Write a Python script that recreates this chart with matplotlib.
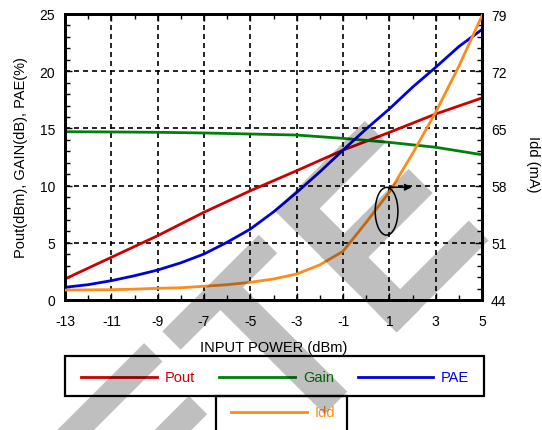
import numpy as np
import matplotlib
matplotlib.use('Agg')
import matplotlib.pyplot as plt
from matplotlib.path import Path
from matplotlib.patches import PathPatch, Ellipse, Rectangle
from matplotlib.lines import Line2D
from matplotlib.ticker import FixedLocator, MultipleLocator

plt.rcParams['font.family'] = ['Liberation Sans', 'DejaVu Sans']
plt.rcParams['axes.unicode_minus'] = False

# ---------------- data ----------------
pin_odd = [-13, -11, -9, -7, -5, -3, -1, 1, 3, 5]
pout = [1.84, 3.73, 5.62, 7.67, 9.55, 11.3, 13.1, 14.65, 16.26, 17.66]
gain = [14.71, 14.69, 14.66, 14.6, 14.51, 14.42, 14.13, 13.78, 13.35, 12.7]

pin_full = [-13, -12, -11, -10, -9, -8, -7, -6, -5, -4, -3, -2, -1, 0, 1, 2, 3, 4, 5]
pae = [1.11, 1.34, 1.69, 2.12, 2.62, 3.25, 4.02, 5.05, 6.2, 7.7, 9.4, 11.2, 13.1,
       14.95, 16.7, 18.6, 20.34, 22.15, 23.65]
idd = [45.22, 45.24, 45.26, 45.33, 45.43, 45.5, 45.68, 45.87, 46.17, 46.57, 47.18,
       48.3, 49.96, 53.5, 57.2, 61.9, 66.97, 72.6, 78.8]

x_ticks = [-13, -11, -9, -7, -5, -3, -1, 1, 3, 5]
left_ticks = [0, 5, 10, 15, 20, 25]
right_ticks = [44, 51, 58, 65, 72, 79]

colors = {'Pout': '#cc0000', 'Gain': '#00800a', 'PAE': '#0000dd', 'Idd': '#ff8c1a'}

# ---------------- figure ----------------
W, H = 542, 431
fig = plt.figure(figsize=(W / 100, H / 100), dpi=100)

def fx(x):
    return x / W

def fy(y):
    return 1 - y / H

ax_l, ax_r, ax_t, ax_b = 65, 482, 15, 301
ax = fig.add_axes([fx(ax_l), fy(ax_b), (ax_r - ax_l) / W, (ax_b - ax_t) / H])
ax2 = ax.twinx()

lw = 2.0
ax.plot(pin_odd, pout, color=colors['Pout'], lw=lw, zorder=3)
ax.plot(pin_odd, gain, color=colors['Gain'], lw=lw, zorder=3)
ax.plot(pin_full, pae, color=colors['PAE'], lw=lw, zorder=4)
ax2.plot(pin_full, idd, color=colors['Idd'], lw=lw, zorder=3)

ax.set_xlim(-13, 5)
ax.set_ylim(0, 25)
ax2.set_ylim(44, 79)

ax.xaxis.set_major_locator(FixedLocator(x_ticks))
ax.xaxis.set_minor_locator(MultipleLocator(1))
ax.yaxis.set_major_locator(FixedLocator(left_ticks))
ax.yaxis.set_minor_locator(MultipleLocator(1))
ax2.yaxis.set_major_locator(FixedLocator(right_ticks))
ax2.yaxis.set_minor_locator(FixedLocator(list(np.arange(44, 79.01, 1.4))))

ax.grid(True, which='major', color='black', linestyle=(0, (3.0, 2.4)), linewidth=1.2)

ax.tick_params(axis='x', which='both', direction='in', top=True, bottom=True,
               labelsize=10, pad=10, width=1, colors='black')
ax.tick_params(axis='x', which='major', length=5)
ax.tick_params(axis='x', which='minor', length=3.5)
ax.tick_params(axis='y', which='both', direction='in', left=True, right=False,
               labelsize=10, pad=7, width=1)
ax.tick_params(axis='y', which='major', length=5)
ax.tick_params(axis='y', which='minor', length=3.5)
ax2.tick_params(axis='y', which='both', direction='in', right=True, labelsize=10,
                pad=6.5, width=1)
ax2.tick_params(axis='y', which='major', length=5)
ax2.tick_params(axis='y', which='minor', length=3.5)

for a in (ax, ax2):
    for s in a.spines.values():
        s.set_linewidth(2.0)
        s.set_color('black')

# annotation: ellipse + arrow pointing to the right axis
ell_center = (0.88, 54.86)
ell_w, ell_h = 0.98, 5.84
ax2.add_patch(Ellipse(ell_center, ell_w, ell_h, fill=False, ec='black', lw=1.1, zorder=6))
ax2.annotate('', xy=(1.97, 57.8), xytext=(0.95, 57.8),
             arrowprops=dict(arrowstyle='-|>', color='black', lw=1.1,
                             mutation_scale=10, shrinkA=0, shrinkB=0), zorder=6)

# axis labels
fig.text(fx(273.5), fy(348), 'INPUT POWER (dBm)', ha='center', va='center', fontsize=10.5)
fig.text(fx(21.5), fy(158), 'Pout(dBm), GAIN(dB), PAE(%)', ha='center', va='center',
         rotation=90, fontsize=10.5)
fig.text(fx(533), fy(164), 'Idd (mA)', ha='center', va='center', rotation=270,
         fontsize=10.5)

# ---------------- legend (two boxed rows) ----------------
def add_rect(x0, y0, x1, y1):
    fig.add_artist(Rectangle((fx(x0), fy(y1)), (x1 - x0) / W, (y1 - y0) / H,
                             transform=fig.transFigure, fill=False, ec='black',
                             lw=1.6, zorder=5, clip_on=False))

add_rect(65, 357, 484, 397)
add_rect(216, 397, 347, 445)

legend_items = [
    ('Pout', 81, 157, 378),
    ('Gain', 219, 295, 378),
    ('PAE', 358, 433, 378),
    ('Idd', 231, 307, 413),
]
for name, x0, x1, yy in legend_items:
    fig.add_artist(Line2D([fx(x0), fx(x1)], [fy(yy), fy(yy)], transform=fig.transFigure,
                          color=colors[name], lw=2.0, zorder=5))
    fig.text(fx(x1 + 8), fy(yy), name, ha='left', va='center', fontsize=10.5,
             color=colors[name], zorder=5)

# ---------------- watermark (semi-transparent grey strokes) ----------------
def oriented(poly):
    p = np.asarray(poly, float)
    area = 0.5 * np.sum(p[:, 0] * np.roll(p[:, 1], -1) - np.roll(p[:, 0], -1) * p[:, 1])
    return p if area > 0 else p[::-1]

def band(p0, p1, w):
    p0 = np.asarray(p0, float); p1 = np.asarray(p1, float)
    d = (p1 - p0) / np.linalg.norm(p1 - p0)
    n = np.array([-d[1], d[0]]) * w / 2
    return oriented([p0 + n, p1 + n, p1 - n, p0 - n])

def rot_rect(origin, u0, u1, v0, v1):
    o = np.asarray(origin, float)
    u = np.array([1, 1]) / np.sqrt(2)
    v = np.array([1, -1]) / np.sqrt(2)
    return oriented([o + u * u0 + v * v0, o + u * u1 + v * v0,
                     o + u * u1 + v * v1, o + u * u0 + v * v1])

wm_polys = []
E_origin = (275, 211.7)
for r in [(0, 172, 0, 33), (0, 30, 0, 127), (65, 99, 0, 124), (144, 172, 0, 130)]:
    wm_polys.append(rot_rect(E_origin, *r))
wm_polys.append(band((171.5, 341.5), (268, 245), 26))
wm_polys.append(band((222.5, 290.5), (336, 404), 32))
wm_polys.append(band((153.3, 353.3), (50, 456.6), 26))
wm_polys.append(band((198, 406), (140, 464), 26))

verts, codes = [], []
for p in wm_polys:
    for i, (px, py) in enumerate(p):
        verts.append((fx(px), fy(py)))
        codes.append(Path.MOVETO if i == 0 else Path.LINETO)
    verts.append((0, 0))
    codes.append(Path.CLOSEPOLY)
fig.add_artist(PathPatch(Path(verts, codes), transform=fig.transFigure,
                         facecolor='black', edgecolor='none', alpha=0.25, zorder=20))

fig.savefig('out.png', dpi=100)
